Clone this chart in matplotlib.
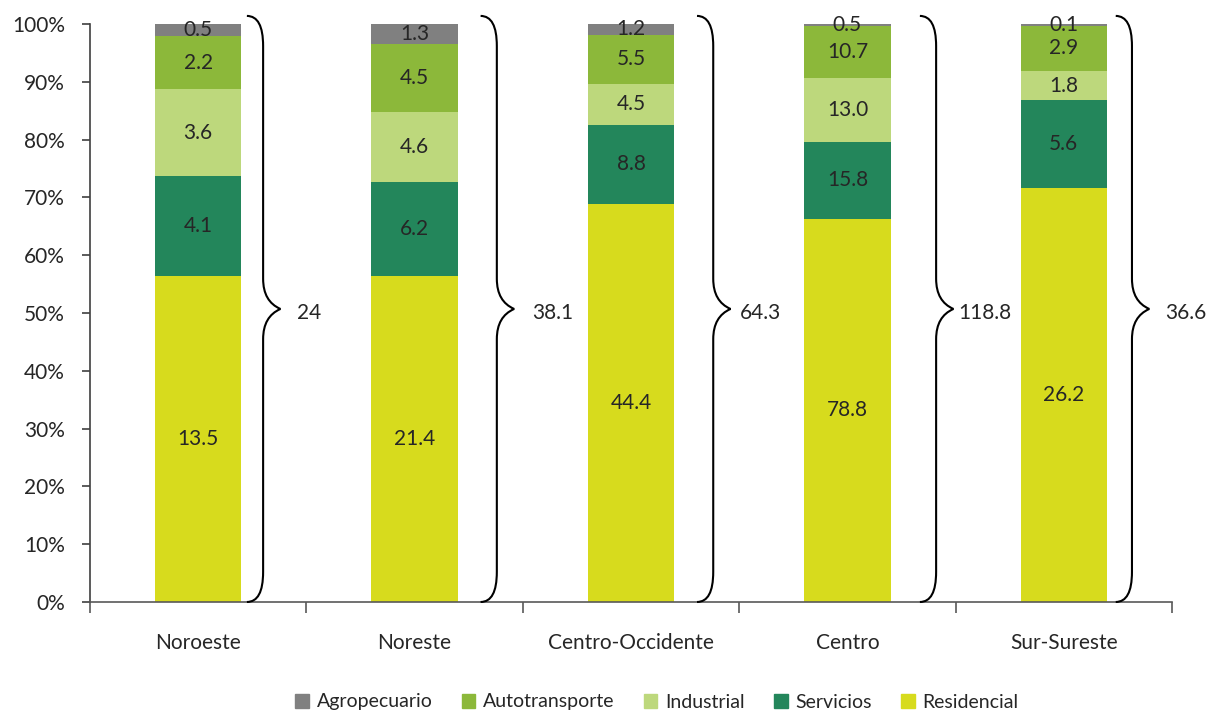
import matplotlib
matplotlib.use('Agg')
import matplotlib.pyplot as plt
from matplotlib.path import Path
from matplotlib.patches import PathPatch, Patch
import numpy as np

# Regions and sectors
regions = ['Noroeste', 'Noreste', 'Centro-Occidente', 'Centro', 'Sur-Sureste']
sectors = ['Residencial', 'Servicios', 'Industrial', 'Autotransporte', 'Agropecuario']
residencial = [13.5, 21.4, 44.4, 78.8, 26.2]
servicios = [4.1, 6.2, 8.8, 15.8, 5.6]
industrial = [3.6, 4.6, 4.5, 13.0, 1.8]
autotransporte = [2.2, 4.5, 5.5, 10.7, 2.9]
agropecuario = [0.5, 1.3, 1.2, 0.5, 0.1]
totals = ['24', '38.1', '64.3', '118.8', '36.6']

colors = ['#d7db1d', '#23865b', '#bdd87c', '#8cb83a', '#808080']

# brace placement per region (offset from bar centre, in category units)
brace_x = [0.30, 0.38, 0.38, 0.41, 0.315]
total_x = [0.458, 0.542, 0.505, 0.514, 0.468]

plt.rcParams['font.family'] = ['Lato', 'DejaVu Sans']
txt_color = '#262626'

fig = plt.figure(figsize=(12.13, 7.14), dpi=100)
ax = fig.add_axes([90/1213, 1-602/714, (1172-90)/1213, (602-24)/714])

series = [residencial, servicios, industrial, autotransporte, agropecuario]
data = np.array(series, dtype=float)
shares = data / data.sum(axis=0)
x = np.arange(len(regions))
bottom = np.zeros(len(regions))
for name, vals, sh, col in zip(sectors, series, shares, colors):
    ax.bar(x, sh, 0.40, bottom=bottom, color=col, label=name, zorder=2)
    for xi, b, s, v in zip(x, bottom, sh, vals):
        ax.text(xi, b + s/2, f'{v:.1f}', ha='center', va='center',
                fontsize=15, color=txt_color)
    bottom += sh

# curly braces with totals
ytop, ybot = 1.014, 0.0
ymid = (ytop + ybot) / 2
r = 0.052
for xi, bx, tx, tot in zip(x, brace_x, total_x, totals):
    x1 = xi + bx
    x0 = x1 - 0.075
    x2 = x1 + 0.08
    verts = [(x0, ytop), (x1, ytop), (x1, ytop - r),
             (x1, ymid + r),
             (x1, ymid + 0.25*r), (x2, ymid),
             (x1, ymid - 0.25*r), (x1, ymid - r),
             (x1, ybot + r),
             (x1, ybot), (x0, ybot)]
    codes = [Path.MOVETO, Path.CURVE3, Path.CURVE3,
             Path.LINETO,
             Path.CURVE3, Path.CURVE3,
             Path.CURVE3, Path.CURVE3,
             Path.LINETO,
             Path.CURVE3, Path.CURVE3]
    ax.add_patch(PathPatch(Path(verts, codes), fill=False, lw=1.5,
                           edgecolor='black', clip_on=False, zorder=3))
    ax.text(xi + tx, ymid - 0.007, tot, ha='left', va='center',
            fontsize=15, color=txt_color)

ax.set_xlim(-0.5, 4.5)
ax.set_ylim(0, 1)
ax.set_yticks(np.arange(0, 1.01, 0.1))
ax.set_yticklabels([f'{int(round(v*100))}%' for v in np.arange(0, 1.01, 0.1)])
ax.set_xticks(x)
ax.set_xticklabels(regions)
ax.set_xticks(np.arange(-0.5, 4.6, 1), minor=True)
ax.tick_params(axis='x', which='major', length=0, pad=22, labelsize=15,
               labelcolor=txt_color)
ax.tick_params(axis='x', which='minor', length=8, width=1.2, color='#595959',
               direction='out')
ax.tick_params(axis='y', length=6, width=1.2, color='#404040', direction='out',
               labelsize=15, labelcolor=txt_color, pad=12)
for s in ['top', 'right']:
    ax.spines[s].set_visible(False)
ax.spines['left'].set_color('#404040')
ax.spines['bottom'].set_color('#595959')
ax.spines['left'].set_linewidth(1.2)
ax.spines['bottom'].set_linewidth(1.2)

handles = [Patch(color=c, label=n) for n, c in zip(sectors, colors)][::-1]
fig.legend(handles=handles, loc='center', bbox_to_anchor=(657/1213, 12/714),
           ncol=5, frameon=False, fontsize=14, handlelength=0.7,
           handleheight=0.7, handletextpad=0.4, columnspacing=1.5,
           labelcolor=txt_color)

fig.savefig('out.png', dpi=100)
